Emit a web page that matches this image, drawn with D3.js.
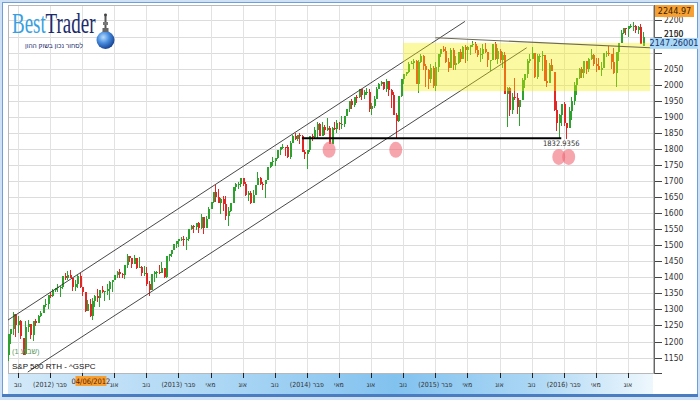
<!DOCTYPE html>
<html><head><meta charset="utf-8">
<script src="https://cdn.jsdelivr.net/npm/d3@7/dist/d3.min.js"></script>
<style>
html,body{margin:0;padding:0;background:#fff;}
svg{display:block;}
</style></head><body>
<svg id="c" width="700" height="400"></svg>
<script>
// ---------- DATA (weekly S&P 500 candles, first week starting Monday) ----------
const firstWeek = "2011-10-10";
const open = [
1158,1224,1238,1284,1253,1263,1212,1162,1245,1255,1219,1265,
1258,1278,1289,1315,1316,1345,1343,1361,1366,1370,1371,1404,1397,1408,1398,1370,1379,1403,1369,1353,1295,1318,1278,1326,1343,1335,1362,1355,1357,1363,1386,1391,1406,1418,1411,1407,1438,1466,1460,1441,1461,1429,1433,1412,1414,1380,1360,1409,1416,1418,1414,1430,1402,
1466,1472,1486,1503,1513,1518,1520,1516,1518,1551,1561,1557,1569,1553,1589,1555,1582,1614,1634,1667,1650,1631,1643,1627,1592,1606,1632,1680,1692,1692,1710,1691,1656,1664,1633,1655,1688,1710,1692,1690,1703,1745,1760,1762,1771,1798,1805,1806,1805,1775,1818,1841,
1831,1842,1839,1790,1783,1797,1839,1836,1859,1878,1841,1867,1858,1865,1816,1865,1863,1881,1878,1878,1901,1924,1949,1936,1963,1961,1985,1968,1978,1978,1925,1932,1955,1988,2003,2008,1986,2010,1983,1968,1906,1887,1965,2018,2032,2040,2064,2068,2075,2002,2071,2089,
2058,2045,2019,2052,1995,2055,2097,2110,2105,2071,2053,2108,2061,2067,2102,2081,2118,2108,2116,2123,2126,2107,2093,2094,2110,2101,2077,2077,2127,2080,2104,2078,2092,1971,1989,1921,1961,1958,1931,1951,2015,2033,2075,2079,2099,2023,2089,2090,2092,2012,2006,2061,
2038,1922,1880,1907,1940,1880,1865,1918,1948,2000,2022,2050,2036,2073,2048,2081,2092,2065,2057,2047,2052,2099,2099,2096,2071,2037,2103,2130,2162,2175,2174,2183,2184,2184,2169,2180,2120];
const high = [
1225,1239,1293,1285,1278,1266,1212,1264,1267,1256,1265,1269,
1284,1296,1315,1333,1345,1354,1363,1368,1378,1374,1405,1414,1419,1422,1398,1392,1406,1415,1371,1354,1328,1334,1335,1344,1363,1362,1374,1358,1380,1390,1392,1407,1419,1426,1413,1438,1474,1467,1460,1470,1461,1464,1434,1434,1433,1388,1409,1419,1420,1438,1448,1430,1467,
1472,1486,1503,1514,1518,1525,1530,1525,1552,1564,1564,1570,1573,1597,1589,1592,1618,1635,1667,1687,1674,1648,1654,1654,1620,1632,1680,1693,1698,1709,1709,1696,1669,1669,1671,1689,1729,1711,1698,1703,1745,1760,1775,1771,1798,1805,1814,1806,1811,1823,1844,1849,
1843,1850,1844,1798,1798,1841,1847,1867,1883,1882,1884,1875,1897,1872,1869,1884,1891,1885,1902,1901,1924,1949,1955,1963,1968,1985,1984,1984,1989,1985,1942,1964,1994,2005,2011,2007,2019,2010,1985,1977,1912,1965,2018,2034,2041,2071,2075,2079,2076,2077,2094,2093,
2064,2049,2064,2057,2072,2097,2110,2119,2117,2083,2114,2115,2089,2102,2111,2120,2125,2120,2123,2135,2132,2121,2115,2126,2130,2102,2078,2127,2132,2114,2112,2102,2102,1993,1993,1975,2021,1974,1952,2020,2034,2080,2094,2116,2099,2097,2094,2104,2090,2076,2067,2081,
2038,1950,1908,1940,1947,1881,1930,1962,2009,2022,2052,2056,2075,2074,2083,2111,2096,2084,2084,2071,2100,2105,2121,2096,2113,2103,2131,2169,2175,2177,2183,2188,2194,2187,2184,2188,2163];
const low = [
1138,1191,1221,1215,1226,1209,1158,1158,1231,1209,1202,1248,
1258,1275,1290,1306,1300,1337,1340,1354,1354,1340,1365,1391,1391,1397,1357,1358,1366,1367,1343,1291,1295,1277,1266,1306,1324,1309,1352,1325,1345,1329,1354,1391,1397,1398,1397,1396,1429,1449,1430,1440,1425,1429,1403,1405,1373,1343,1359,1385,1398,1411,1413,1398,1398,
1451,1463,1485,1492,1495,1513,1497,1485,1514,1547,1538,1546,1539,1552,1536,1555,1581,1614,1630,1635,1630,1598,1608,1577,1560,1604,1632,1670,1676,1681,1684,1654,1639,1627,1633,1656,1688,1687,1671,1646,1702,1740,1747,1746,1768,1780,1800,1779,1772,1767,1819,1827,
1823,1815,1790,1770,1738,1791,1824,1834,1834,1839,1840,1842,1857,1814,1815,1859,1851,1859,1862,1868,1901,1915,1925,1930,1944,1958,1952,1955,1967,1916,1904,1928,1956,1990,1997,1984,1978,1965,1926,1905,1832,1884,1962,2003,2026,2035,2064,2049,2002,1973,2069,2046,
1992,1988,2004,1989,1980,2041,2085,2103,2067,2039,2055,2046,2045,2064,2072,2094,2067,2074,2093,2117,2099,2085,2072,2080,2099,2056,2044,2078,2077,2063,2067,2052,1970,1867,1903,1910,1953,1908,1872,1951,1991,2022,2066,2080,2022,2019,2070,2042,2012,1993,2005,2043,
1918,1857,1835,1872,1872,1832,1871,1891,1937,1969,2017,2022,2022,2033,2039,2077,2059,2039,2045,2026,2052,2085,2090,2050,2033,1992,2074,2131,2159,2155,2147,2178,2168,2160,2157,2128,2119];
const close = [
1224,1238,1285,1253,1264,1216,1159,1244,1255,1220,1265,1258,
1278,1289,1315,1316,1345,1343,1361,1366,1370,1371,1404,1397,1408,1398,1370,1379,1403,1369,1353,1295,1318,1278,1326,1343,1335,1362,1355,1357,1363,1386,1391,1406,1418,1411,1407,1438,1466,1460,1441,1461,1429,1433,1412,1414,1380,1360,1409,1416,1418,1414,1430,1402,1466,
1472,1486,1503,1513,1518,1520,1516,1518,1551,1561,1557,1569,1553,1589,1555,1582,1614,1634,1667,1650,1631,1643,1627,1592,1606,1632,1680,1692,1692,1710,1691,1656,1664,1633,1655,1688,1710,1692,1690,1703,1745,1760,1762,1771,1798,1805,1806,1805,1775,1818,1841,1831,
1842,1839,1790,1783,1797,1839,1836,1859,1878,1841,1867,1858,1865,1816,1865,1863,1881,1878,1878,1901,1924,1949,1936,1963,1961,1985,1968,1978,1978,1925,1932,1955,1988,2003,2008,1986,2010,1983,1968,1906,1887,1965,2018,2032,2040,2064,2068,2075,2002,2071,2089,2058,
2045,2019,2052,1995,2055,2097,2110,2105,2071,2053,2108,2061,2067,2102,2081,2118,2108,2116,2123,2126,2107,2093,2094,2110,2101,2077,2077,2127,2080,2104,2078,2092,1971,1989,1921,1961,1958,1931,1951,2015,2033,2075,2079,2099,2023,2089,2090,2092,2012,2006,2061,2044,
1922,1880,1907,1940,1880,1865,1918,1948,2000,2022,2050,2036,2073,2048,2081,2092,2065,2057,2047,2052,2099,2099,2096,2071,2037,2103,2130,2162,2175,2174,2183,2184,2184,2169,2180,2128,2147];

const yTicks = [1150,1200,1250,1300,1350,1400,1450,1500,1550,1600,1650,1700,1750,1800,1850,1900,1950,2000,2050,2100,2150,2200];
const xTickDates = ["2011-11-07","2012-02-06","2012-05-07","2012-08-06","2012-11-05","2013-02-04","2013-05-06","2013-08-05","2013-11-04","2014-02-03","2014-05-05","2014-08-04","2014-11-03","2015-02-02","2015-05-04","2015-08-03","2015-11-02","2016-02-01","2016-05-02","2016-08-01"];
const xTickLabels = ["נוב","(2012) פבר","מאי","אוג","נוב","(2013) פבר","מאי","אוג","נוב","(2014) פבר","מאי","אוג","נוב","(2015) פבר","מאי","אוג","נוב","(2016) פבר","מאי","אוג"];
const xDomain = ["2011-10-10","2016-10-11"];
const yDomain = [1102, 2245];

// annotations (date, value)
const upperChannel = [["2011-10-10",1267],["2015-04-27",2197]];
const lowerChannel = [["2011-12-05",1105],["2015-10-19",2115]];
const resistance   = [["2015-02-02",2146],["2016-10-03",2115]];
const support      = [["2014-01-20",1833],["2016-01-25",1833]];
const supportLabel = "1832.9356";
const zone         = [["2014-11-03",2130],["2016-10-03",1980]];
const markers      = [["2014-04-07",1797],["2014-10-13",1797],["2016-01-18",1775],["2016-02-15",1775]];
const cursorDate = "2012-06-04", cursorLabel = "04/06/2012";
const topValue = 2244.97, topValueLabel = "2244.97";
const lastPrice = 2147.26001, lastPriceLabel = "2147.26001";
const symbolLabel = "S&P 500 RTH - ^GSPC";
const periodParts = ["(1", "שבוע)"];
const logoParts = ["Best", "Trader"];
const tagline = "לסחור נכון בשוק ההון";

// ---------- DRAW ----------
const NARROW = "'Liberation Sans Narrow','Arial Narrow','DejaVu Sans Condensed',sans-serif";
const svg = d3.select("#c");
const P = {l:8, t:5, r:653, b:373};
const parse = d3.utcParse("%Y-%m-%d");
const start = parse(firstWeek);
const weeks = d3.utcMonday.range(start, d3.utcMonday.offset(start, close.length));
const bars = close.map((c,i)=>({d:weeks[i], o:open[i], h:high[i], l:low[i], c:c}));

const x = d3.scaleUtc().domain(xDomain.map(parse)).range([P.l, P.r]);
const y = d3.scaleLinear().domain(yDomain).range([P.b, 6]);

const defs = svg.append("defs");
defs.append("clipPath").attr("id","clip").append("rect")
  .attr("x",P.l).attr("y",P.t).attr("width",P.r-P.l).attr("height",P.b-P.t);
const g1 = defs.append("linearGradient").attr("id","strip").attr("x1","0").attr("x2","1").attr("y1","0").attr("y2","0");
[[0,"#d3e9f9"],[0.35,"#a9d5f4"],[0.6,"#82c2ef"],[0.8,"#a8d5f4"],[1,"#eef7fd"]].forEach(s=>g1.append("stop").attr("offset",s[0]).attr("stop-color",s[1]));
const g2 = defs.append("radialGradient").attr("id","globe").attr("cx","0.38").attr("cy","0.35").attr("r","0.7");
[[0,"#b9dcfb"],[0.45,"#4a8fe0"],[1,"#123c8c"]].forEach(s=>g2.append("stop").attr("offset",s[0]).attr("stop-color",s[1]));

// frame
svg.append("rect").attr("width",700).attr("height",400).attr("fill","#cfe2f5");
svg.append("rect").attr("x",2.5).attr("y",2.5).attr("width",695).attr("height",392).attr("fill","#fff").attr("stroke","#6f9fd8");
svg.append("rect").attr("x",2).attr("y",394).attr("width",696).attr("height",3).attr("fill","#4a7cc2");

// x strip
svg.append("rect").attr("x",P.l).attr("y",P.b).attr("width",P.r-P.l).attr("height",21).attr("fill","url(#strip)");

// grid
const grid = svg.append("g").attr("shape-rendering","crispEdges");
grid.selectAll(".hg").data(yTicks).join("line")
  .attr("x1",P.l).attr("x2",P.r).attr("y1",d=>Math.round(y(d))+0.5).attr("y2",d=>Math.round(y(d))+0.5)
  .attr("stroke","#dcdcdc");
grid.selectAll(".vg").data(xTickDates).join("line")
  .attr("x1",d=>Math.round(x(parse(d)))+0.5).attr("x2",d=>Math.round(x(parse(d)))+0.5)
  .attr("y1",P.t).attr("y2",P.b).attr("stroke","#e2e2e2");
svg.append("rect").attr("x",P.l+0.5).attr("y",P.t+0.5).attr("width",P.r-P.l).attr("height",P.b-P.t)
  .attr("fill","none").attr("stroke","#b8b8b8").attr("shape-rendering","crispEdges");

const plot = svg.append("g").attr("clip-path","url(#clip)");

// candles
const cg = plot.append("g").attr("shape-rendering","crispEdges");
const col = b => b.c >= b.o ? "#2ea22e" : "#e42525";
cg.selectAll(".w").data(bars).join("rect")
  .attr("x",b=>Math.round(x(b.d))).attr("width",1)
  .attr("y",b=>y(b.h)).attr("height",b=>Math.max(1,y(b.l)-y(b.h)))
  .attr("fill",col);
cg.selectAll(".b").data(bars).join("rect")
  .attr("x",b=>Math.round(x(b.d))-0.5).attr("width",2)
  .attr("y",b=>y(Math.max(b.o,b.c))).attr("height",b=>Math.max(1,Math.abs(y(b.o)-y(b.c))))
  .attr("fill",col);

// lines
const line = d3.line().x(p=>x(parse(p[0]))).y(p=>y(p[1]));
plot.append("path").attr("d",line(upperChannel)).attr("stroke","#333").attr("stroke-width",0.9).attr("fill","none");
plot.append("path").attr("d",line(lowerChannel)).attr("stroke","#333").attr("stroke-width",0.9).attr("fill","none");
plot.append("path").attr("d",line(support)).attr("stroke","#000").attr("stroke-width",2).attr("fill","none");

// yellow zone
plot.append("rect")
  .attr("x",x(parse(zone[0][0]))).attr("y",y(zone[0][1]))
  .attr("width",x(parse(zone[1][0]))-x(parse(zone[0][0])))
  .attr("height",y(zone[1][1])-y(zone[0][1]))
  .attr("fill","rgba(245,240,0,0.37)");
plot.append("path").attr("d",line(resistance)).attr("stroke","#6e6a52").attr("stroke-width",1.1).attr("fill","none");

// markers
plot.selectAll(".m").data(markers).join("ellipse")
  .attr("cx",p=>x(parse(p[0]))).attr("cy",p=>y(p[1])).attr("rx",6.5).attr("ry",8)
  .attr("fill","rgba(240,105,118,0.6)");

// support label
svg.append("text").attr("x",x(parse(support[1][0]))).attr("y",y(support[1][1])+8)
  .attr("text-anchor","middle").attr("font-family",NARROW).attr("font-size",7.5).attr("fill","#333")
  .text(supportLabel);

// y axis
const boxTop = y(lastPrice) + 0.5;
const ya = svg.append("g").attr("shape-rendering","crispEdges");
ya.append("line").attr("x1",654.5).attr("x2",654.5).attr("y1",P.t).attr("y2",P.b+1).attr("stroke","#666");
ya.selectAll(".t").data(yTicks).join("line")
  .attr("x1",655).attr("x2",662).attr("y1",d=>Math.round(y(d))+0.5).attr("y2",d=>Math.round(y(d))+0.5).attr("stroke","#444");
ya.append("line").attr("x1",655).attr("x2",662).attr("y1",P.b+0.5).attr("y2",P.b+0.5).attr("stroke","#444");
svg.append("g").selectAll("text").data(yTicks).join("text")
  .attr("x",664)
  .attr("y",d=>{ const yy = y(d)+3; return (yy > boxTop && yy - 7 < boxTop + 11) ? boxTop - 0.5 : yy; })
  .attr("font-family",NARROW).attr("font-size",8.5).attr("fill","#333")
  .text(d=>d);

// top value box
svg.append("rect").attr("x",655).attr("y",y(topValue)-1).attr("width",39).attr("height",12).attr("fill","#f6a033");
svg.append("text").attr("x",674.5).attr("y",y(topValue)+8).attr("text-anchor","middle")
  .attr("font-family",NARROW).attr("font-size",9).attr("fill","#3a2000").text(topValueLabel);
// last price box
svg.append("rect").attr("x",650).attr("y",boxTop).attr("width",48).attr("height",11).attr("fill","#a9d8f6");
svg.append("text").attr("x",674).attr("y",boxTop+8.5).attr("text-anchor","middle")
  .attr("font-family",NARROW).attr("font-size",9).attr("fill","#17306a").text(lastPriceLabel);

// x axis ticks & labels
const cx0 = x(parse(cursorDate));
const xa = svg.append("g");
xa.selectAll("line").data(xTickDates).join("line")
  .attr("x1",d=>Math.round(x(parse(d)))+0.5).attr("x2",d=>Math.round(x(parse(d)))+0.5)
  .attr("y1",P.b).attr("y2",P.b+5).attr("stroke","#222").attr("shape-rendering","crispEdges");
// labels hidden by the cursor date box are not drawn (as in the reference)
const visibleTicks = xTickDates.map((d,i)=>({d, t:xTickLabels[i]})).filter(o=>Math.abs(x(parse(o.d))-cx0) > 20);
xa.selectAll("text").data(visibleTicks).join("text")
  .attr("x",o=>x(parse(o.d))).attr("y",P.b+14).attr("text-anchor","middle")
  .attr("font-family",NARROW).attr("font-size",7).attr("fill","#333")
  .text(o=>o.t);
// cursor date box
svg.append("rect").attr("x",cx0-16.5).attr("y",P.b+3).attr("width",31).attr("height",10).attr("fill","#f6a033");
svg.append("text").attr("x",cx0-1).attr("y",P.b+11).attr("text-anchor","middle")
  .attr("font-family",NARROW).attr("font-size",7.5).attr("fill","#5a1a00").text(cursorLabel);

// symbol / period labels
const pf = "'Liberation Sans',Arial,sans-serif";
const p1 = svg.append("text").attr("x",12).attr("y",354).attr("font-family",pf)
  .attr("font-size",7.5).attr("fill","#5f9a5f").text(periodParts[0]);
const p1w = p1.node().getComputedTextLength();
svg.append("text").attr("x",12 + p1w + 2).attr("y",354).attr("font-family",pf)
  .attr("font-size",7.5).attr("fill","#5f9a5f").text(periodParts[1]);
svg.append("text").attr("x",12).attr("y",369).attr("font-family",pf)
  .attr("font-size",8).attr("fill","#111").text(symbolLabel);

// logo (vertically stretched serif wordmark)
const logo = svg.append("g");
const LF = "'Liberation Serif','Times New Roman',serif";
const word = logo.append("g").attr("transform","translate(0,33) scale(1,1.5)");
word.append("text").attr("x",12).attr("y",0).attr("font-family",LF).attr("font-size",19)
  .attr("fill","#3a9fdf").text(logoParts[0]);
word.append("text").attr("x",45.5).attr("y",0).attr("font-family",LF).attr("font-size",19)
  .attr("fill","#1b2b6b").text(logoParts[1]);
logo.append("text").attr("x",25).attr("y",47.5).attr("font-family",pf)
  .attr("font-size",7.2).attr("fill","#1b2b6b").attr("textLength",58).attr("lengthAdjust","spacingAndGlyphs")
  .text(tagline);
logo.append("circle").attr("cx",105.5).attr("cy",40).attr("r",9).attr("fill","url(#globe)");
logo.append("rect").attr("x",104.5).attr("y",14).attr("width",2).attr("height",18).attr("fill","#555");
logo.append("rect").attr("x",103).attr("y",22).attr("width",5).attr("height",3).attr("fill","#777");
logo.append("rect").attr("x",102.5).attr("y",28).attr("width",6).attr("height",4).attr("fill","#666");
logo.append("circle").attr("cx",105.5).attr("cy",15).attr("r",1.4).attr("fill","#444");
</script>
</body></html>
